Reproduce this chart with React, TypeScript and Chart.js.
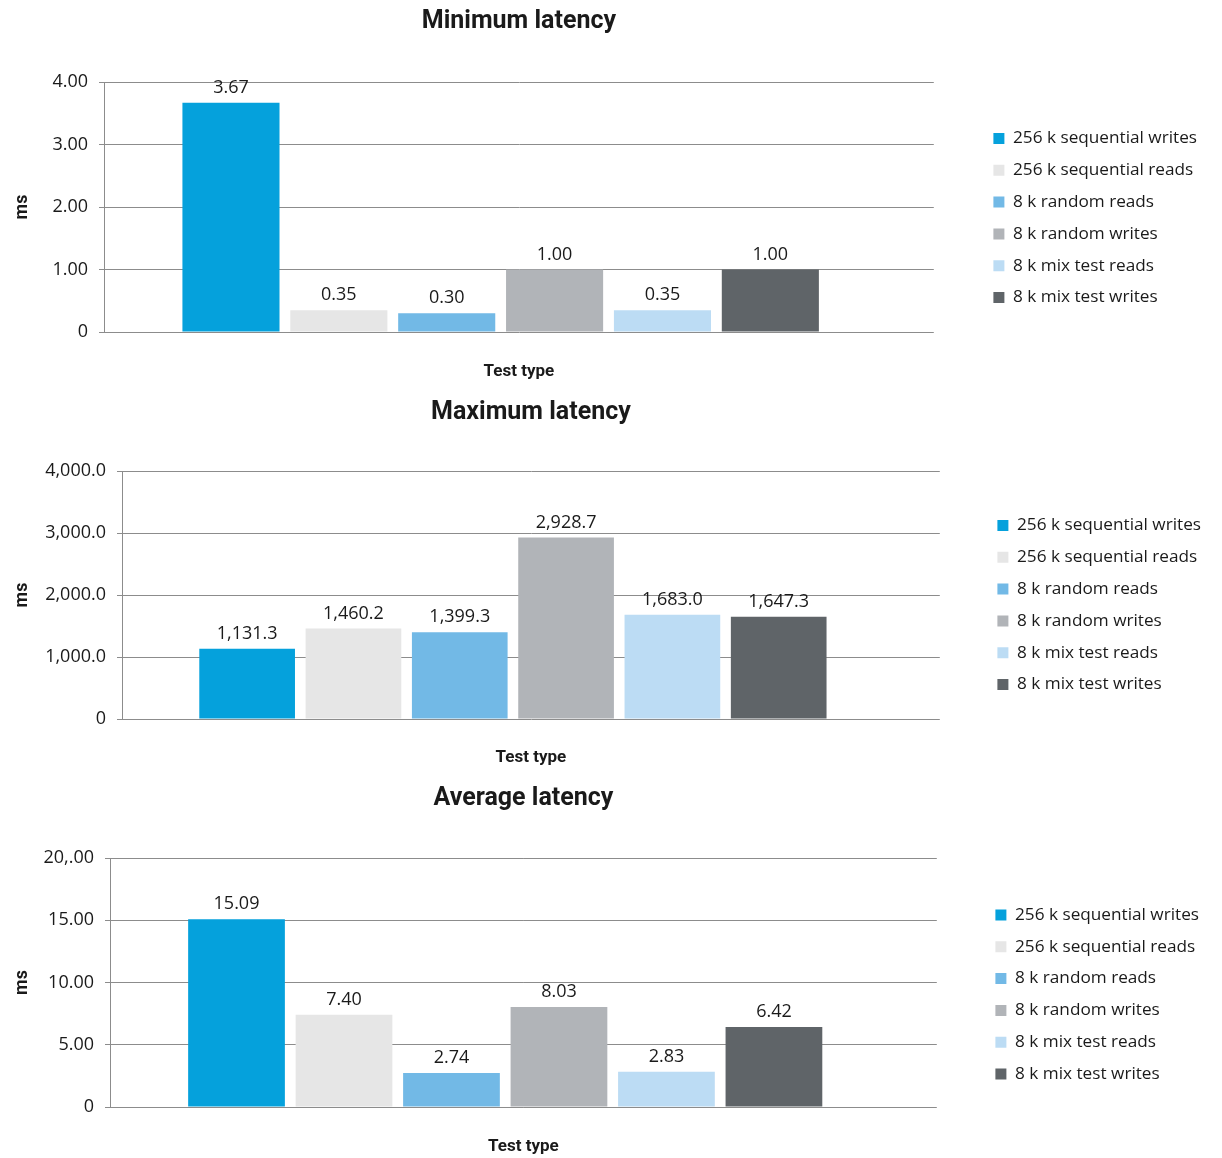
import { useEffect, useRef } from 'react';
import { Chart, registerables } from 'chart.js';

Chart.register(...registerables);

// Series shown in every panel
const seriesNames = [
  '256 k sequential writes',
  '256 k sequential reads',
  '8 k random reads',
  '8 k random writes',
  '8 k mix test reads',
  '8 k mix test writes',
];
const seriesColors = ['#05a1dc', '#e6e6e6', '#72b9e6', '#b1b4b8', '#bcdcf4', '#5f6468'];

// Latency values (ms), one per series
const minLatency = [3.67, 0.35, 0.3, 1.0, 0.35, 1.0];
const maxLatency = [1131.3, 1460.2, 1399.3, 2928.7, 1683.0, 1647.3];
const avgLatency = [15.09, 7.4, 2.74, 8.03, 2.83, 6.42];

// Y-axis tick labels, bottom to top
const minTicks = ['0', '1.00', '2.00', '3.00', '4.00'];
const maxTicks = ['0', '1,000.0', '2,000.0', '3,000.0', '4,000.0'];
const avgTicks = ['0', '5.00', '10.00', '15.00', '20,.00'];

const xAxisTitle = 'Test type';
const yAxisTitle = 'ms';

const TEXT = '#1a1a1a';
const GRID = '#8c8c8c';
const BODY_FONT = '"Open Sans", "Noto Sans", sans-serif';
const HEAD_FONT = 'Roboto, "Noto Sans", sans-serif';

type Panel = {
  title: string;
  values: number[];
  ticks: string[];
  yMax: number;
  step: number;
  format: (v: number) => string;
  top: number;
  height: number;
  yWidth: number;
  gap: number;
  padRight: number;
  titlePad: { top: number; bottom: number };
  xTitlePad: { top: number; bottom: number };
  legendShift: number;
};

const fixed2 = (v: number) => v.toFixed(2);
const thousands1 = (v: number) =>
  v.toLocaleString('en-US', { minimumFractionDigits: 1, maximumFractionDigits: 1 });

const panels: Panel[] = [
  {
    title: 'Minimum latency',
    values: minLatency,
    ticks: minTicks,
    yMax: 4,
    step: 1,
    format: fixed2,
    top: 0,
    height: 388,
    yWidth: 104,
    gap: 45,
    padRight: 15,
    titlePad: { top: 7, bottom: 45 },
    xTitlePad: { top: 29.8, bottom: 5.8 },
    legendShift: 48,
  },
  {
    title: 'Maximum latency',
    values: maxLatency,
    ticks: maxTicks,
    yMax: 4000,
    step: 1000,
    format: thousands1,
    top: 388,
    height: 388,
    yWidth: 122,
    gap: 43,
    padRight: 11,
    titlePad: { top: 10, bottom: 43 },
    xTitlePad: { top: 28.8, bottom: 7.8 },
    legendShift: 46,
  },
  {
    title: 'Average latency',
    values: avgLatency,
    ticks: avgTicks,
    yMax: 20,
    step: 5,
    format: fixed2,
    top: 776,
    height: 382,
    yWidth: 110,
    gap: 44,
    padRight: 13,
    titlePad: { top: 8, bottom: 44 },
    xTitlePad: { top: 29.8, bottom: 0.8 },
    legendShift: 55,
  },
];

function valueLabelPlugin(format: (v: number) => string) {
  return {
    id: 'valueLabels',
    afterDatasetsDraw(chart: Chart) {
      const ctx = chart.ctx;
      ctx.save();
      ctx.font = `18px ${BODY_FONT}`;
      ctx.fillStyle = TEXT;
      ctx.textAlign = 'center';
      ctx.textBaseline = 'middle';
      chart.data.datasets.forEach((ds, i) => {
        const meta = chart.getDatasetMeta(i);
        meta.data.forEach((bar: any, j: number) => {
          const point = ds.data[j] as { y: number };
          ctx.fillText(format(point.y), bar.x, bar.y - 15);
        });
      });
      ctx.restore();
    },
  };
}

function LatencyChart({ panel }: { panel: Panel }) {
  const ref = useRef<HTMLCanvasElement>(null);

  useEffect(() => {
    if (!ref.current) return;
    const chart = new Chart(ref.current, {
      type: 'bar',
      data: {
        datasets: seriesNames.map((name, i) => ({
          label: name,
          data: [{ x: 0, y: panel.values[i] }],
          backgroundColor: seriesColors[i],
          borderWidth: 0,
          barPercentage: 0.9,
          categoryPercentage: 0.78,
          xAxisID: 'x',
          yAxisID: 'y',
        })),
      },
      options: {
        responsive: false,
        animation: false,
        devicePixelRatio: 1,
        layout: { padding: { left: 0, right: panel.padRight, top: 0, bottom: 0 } },
        scales: {
          x: {
            type: 'linear',
            min: -0.5,
            max: 0.546,
            afterBuildTicks: (axis: any) => {
              axis.ticks = [];
            },
            ticks: { display: false },
            grid: { display: false, drawTicks: false },
            border: { display: false },
            title: {
              display: true,
              text: xAxisTitle,
              color: TEXT,
              font: { family: HEAD_FONT, size: 17, weight: 'bold' },
              padding: panel.xTitlePad,
            },
          },
          y: {
            type: 'linear',
            position: 'left',
            min: 0,
            max: panel.yMax,
            ticks: {
              stepSize: panel.step,
              color: TEXT,
              padding: 11,
              font: { family: BODY_FONT, size: 18 },
              callback: (_v: any, index: number) => panel.ticks[index],
            },
            grid: { color: GRID, lineWidth: 1, tickLength: 5, drawTicks: true },
            border: { display: true, color: GRID, width: 1 },
            title: {
              display: true,
              text: yAxisTitle,
              color: TEXT,
              font: { family: HEAD_FONT, size: 18, weight: 'bold' },
              padding: { top: 11.2, bottom: 0 },
            },
            afterFit: (axis: any) => {
              axis.width = panel.yWidth;
            },
          },
          y2: {
            type: 'linear',
            position: 'right',
            display: true,
            ticks: { display: false },
            grid: { display: false, drawTicks: false },
            border: { display: false },
            afterFit: (axis: any) => {
              axis.width = panel.gap;
            },
          },
        },
        plugins: {
          title: {
            display: true,
            text: panel.title,
            fullSize: false,
            color: TEXT,
            font: { family: HEAD_FONT, size: 25, weight: 'bold' },
            padding: panel.titlePad,
          },
          legend: {
            display: true,
            position: 'right',
            align: 'center',
            maxWidth: 400,
            title: {
              display: true,
              text: ' ',
              font: { size: 10, lineHeight: 1 },
              padding: { top: panel.legendShift - 10, bottom: 0 },
            },
            labels: {
              boxWidth: 11,
              boxHeight: 11,
              padding: 14.6,
              color: TEXT,
              font: { family: BODY_FONT, size: 17.2 },
            },
          },
          tooltip: { enabled: false },
        },
      } as any,
      plugins: [valueLabelPlugin(panel.format)],
    });
    return () => chart.destroy();
  }, [panel]);

  return (
    <canvas
      ref={ref}
      width={1222}
      height={panel.height}
      style={{ position: 'absolute', left: 0, top: panel.top, width: 1222, height: panel.height }}
    />
  );
}

export default function App() {
  return (
    <div
      style={{
        position: 'absolute',
        left: 0,
        top: 0,
        width: 1222,
        height: 1158,
        background: '#ffffff',
        overflow: 'hidden',
      }}
    >
      {panels.map((p) => (
        <LatencyChart key={p.title} panel={p} />
      ))}
    </div>
  );
}
